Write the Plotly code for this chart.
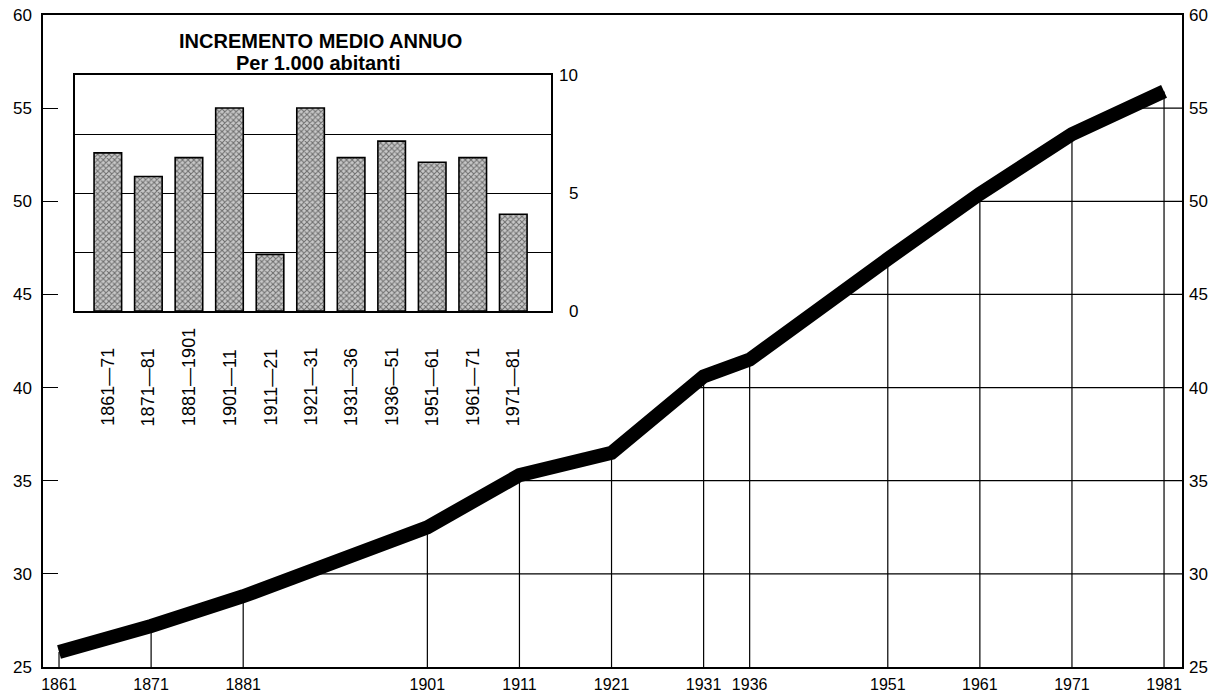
import plotly.graph_objects as go

# ---- main chart data (population, millions) ----
years = [1861, 1871, 1881, 1901, 1911, 1921, 1931, 1936, 1951, 1961, 1971, 1981]
population = [25.8, 27.2, 28.8, 32.5, 35.3, 36.5, 40.6, 41.5, 46.9, 50.4, 53.6, 55.9]
y_ticks = [25, 30, 35, 40, 45, 50, 55, 60]
grid_levels = [30, 35, 40, 45, 50, 55]

# ---- inset data (average annual increment per 1,000 inhabitants) ----
periods = ["1861—71", "1871—81", "1881—1901", "1901—11", "1911—21", "1921—31",
           "1931—36", "1936—51", "1951—61", "1961—71", "1971—81"]
increment = [6.7, 5.7, 6.5, 8.6, 2.4, 8.6, 6.5, 7.2, 6.3, 6.5, 4.1]
inset_ticks = [0, 5, 10]
inset_grid = [0, 2.5, 5, 7.5, 10]

FONT = "Liberation Sans, Arial, sans-serif"
X_MIN, X_MAX = 1859.26, 1982.95
Y_MIN, Y_MAX = 25, 60

# gridline segments: verticals from baseline up to curve, horizontals from curve to right edge
gx, gy = [], []
for yr, p in zip(years, population):
    gx += [yr, yr, None]
    gy += [Y_MIN, p, None]
for lev in grid_levels:
    for i in range(len(years) - 1):
        p0, p1 = population[i], population[i + 1]
        if p0 <= lev < p1:
            xc = years[i] + (lev - p0) * (years[i + 1] - years[i]) / (p1 - p0)
            gx += [xc, X_MAX, None]
            gy += [lev, lev, None]
            break

fig = go.Figure()
fig.add_trace(go.Scatter(x=gx, y=gy, mode="lines", line=dict(color="black", width=1.2),
                         hoverinfo="skip", showlegend=False))
fig.add_trace(go.Scatter(x=years, y=population, mode="lines",
                         line=dict(color="black", width=14), showlegend=False))
# invisible trace to carry the right-hand axis
fig.add_trace(go.Scatter(x=years, y=population, yaxis="y2", mode="lines",
                         line=dict(color="rgba(0,0,0,0)", width=0), hoverinfo="skip",
                         showlegend=False))

# inset bars
idx = list(range(len(periods)))
fig.add_trace(go.Bar(x=idx, y=increment, xaxis="x2", yaxis="y3", width=0.68,
                     marker=dict(color="#a0a0a0",
                                 line=dict(color="black", width=1.6),
                                 pattern=dict(shape="x", size=4, solidity=0.45,
                                              fgcolor="#111111", bgcolor="#c8c8c8")),
                     showlegend=False))

annotations = []
for i, lab in zip(idx, periods):
    annotations.append(dict(x=i, xref="x2", y=(667 - 428) / 652, yref="paper",
                            text=lab, textangle=-90, showarrow=False,
                            xanchor="center", yanchor="bottom",
                            font=dict(family=FONT, size=18, color="black")))
for t in inset_ticks:
    annotations.append(dict(x=(580 - 43) / 1139, xref="paper", y=t, yref="y3",
                            text=str(t), showarrow=False, xanchor="right", yanchor="middle",
                            font=dict(family=FONT, size=17, color="black")))
annotations.append(dict(x=(320 - 43) / 1139, xref="paper", y=(667 - 41) / 652, yref="paper",
                        text="INCREMENTO MEDIO ANNUO", showarrow=False,
                        xanchor="center", yanchor="middle",
                        font=dict(family=FONT, size=20, color="black", weight="bold")))
annotations.append(dict(x=(318 - 43) / 1139, xref="paper", y=(667 - 63) / 652, yref="paper",
                        text="Per 1.000 abitanti", showarrow=False,
                        xanchor="center", yanchor="middle",
                        font=dict(family=FONT, size=20, color="black", weight="bold")))

fig.update_layout(
    width=1222, height=700,
    margin=dict(l=43, r=40, t=15, b=33, autoexpand=False),
    paper_bgcolor="white", plot_bgcolor="white",
    font=dict(family=FONT, color="black"),
    showlegend=False,
    xaxis=dict(range=[X_MIN, X_MAX], tickmode="array", tickvals=years,
               ticktext=[str(y) for y in years], ticks="", showgrid=False, zeroline=False,
               showline=True, mirror=True, linecolor="black", linewidth=1.5,
               tickfont=dict(size=16), ticklabelstandoff=2),
    yaxis=dict(range=[Y_MIN, Y_MAX], tickmode="array", tickvals=y_ticks,
               ticks="inside", ticklen=15, tickwidth=1.2, tickcolor="black",
               showgrid=False, zeroline=False, showline=True, mirror=True,
               linecolor="black", linewidth=1.5, tickfont=dict(size=17),
               ticklabelstandoff=6),
    yaxis2=dict(range=[Y_MIN, Y_MAX], overlaying="y", side="right", anchor="x",
                tickmode="array", tickvals=y_ticks, ticks="", showgrid=False,
                zeroline=False, showline=False, tickfont=dict(size=17),
                ticklabelstandoff=6),
    xaxis2=dict(domain=[(75 - 43) / 1139, (551 - 43) / 1139], anchor="y3",
                range=[-0.81, 10.93], showticklabels=False, ticks="", showgrid=False,
                zeroline=False, showline=True, mirror=True, linecolor="black", linewidth=1.5),
    yaxis3=dict(domain=[(667 - 311) / 652, (667 - 75) / 652], anchor="x2",
                range=[0, 10], tickmode="array", tickvals=inset_grid, showticklabels=False,
                ticks="", showgrid=True, gridcolor="black", gridwidth=1.2, zeroline=False,
                showline=True, mirror=True, linecolor="black", linewidth=1.5),
    annotations=annotations,
)

fig.write_html("out.html", config={"displayModeBar": False},
               post_script="document.body.style.margin='0';")
